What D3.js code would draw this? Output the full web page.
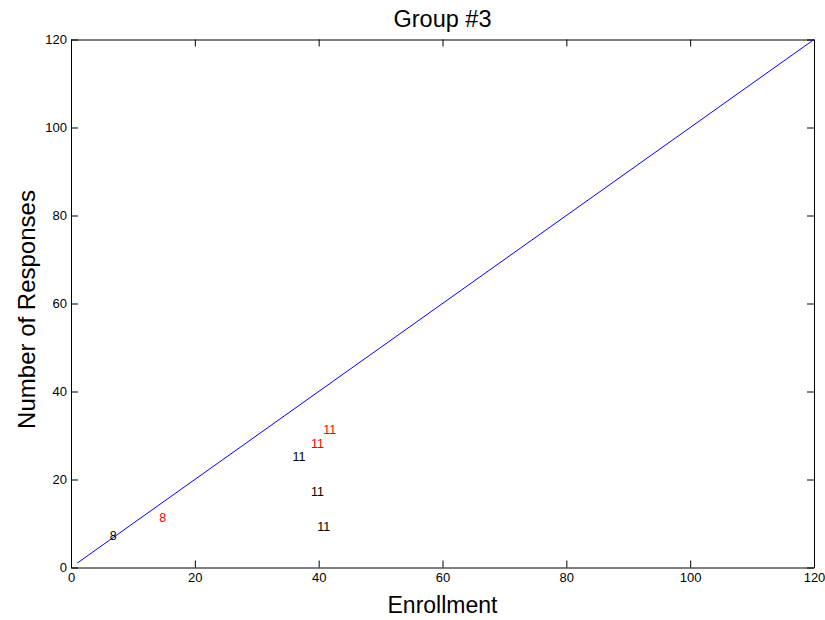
<!DOCTYPE html>
<html>
<head>
<meta charset="utf-8">
<script src="https://cdn.jsdelivr.net/npm/d3@7"></script>
<style>
  body { margin: 0; background: white; }
  text { font-family: "Liberation Sans", Arial, Helvetica, sans-serif; }
</style>
</head>
<body>
<div id="content"></div>
<script>
// Screen dimensions
var w = 825;
var h = 620;

// Plot box
var plotLeft = 71, plotRight = 814, plotTop = 39.5, plotBottom = 567.5;
var tickLen = 7;

// Data
var xTicks = [0, 20, 40, 60, 80, 100, 120];
var yTicks = [0, 20, 40, 60, 80, 100, 120];

// reference line y = x
var lineX = [1, 120];
var lineY = [1, 120];

// black labels
var blackX = [6.5, 36, 39, 40];
var blackY = [7, 25, 17, 9];
var blackLabel = ["8", "11", "11", "11"];

// red labels
var redX = [14.5, 39, 41];
var redY = [11, 28, 31];
var redLabel = ["8", "11", "11"];

var x = d3.scaleLinear().domain([0, 120]).range([plotLeft, plotRight]);
var y = d3.scaleLinear().domain([0, 120]).range([plotBottom, plotTop]);

var svg = d3.select("#content")
    .append("svg")
    .attr("width", w)
    .attr("height", h);

svg.append("rect")
   .attr("width", w)
   .attr("height", h)
   .attr("fill", "white");

// Axes (ticks inward, mirrored on top/right)
var xAxisB = d3.axisBottom(x).tickValues(xTicks).tickSizeInner(-tickLen).tickSizeOuter(0).tickPadding(5);
var xAxisT = d3.axisTop(x).tickValues(xTicks).tickSizeInner(-tickLen).tickSizeOuter(0).tickFormat("");
var yAxisL = d3.axisLeft(y).tickValues(yTicks).tickSizeInner(-tickLen).tickSizeOuter(0).tickPadding(4);
var yAxisR = d3.axisRight(y).tickValues(yTicks).tickSizeInner(-tickLen).tickSizeOuter(0).tickFormat("");

function styleAxis(g) {
  g.selectAll("path").attr("stroke", "black").attr("stroke-width", 1);
  g.selectAll("line").attr("stroke", "black").attr("stroke-width", 1);
  g.selectAll("text").attr("fill", "black").style("font-size", "13px")
   .style("font-family", '"Liberation Sans", Arial, sans-serif');
}

svg.append("g").attr("transform", "translate(0," + plotBottom + ")").call(xAxisB).call(styleAxis);
svg.append("g").attr("transform", "translate(0," + plotTop + ")").call(xAxisT).call(styleAxis);
svg.append("g").attr("transform", "translate(" + plotLeft + ",0)").call(yAxisL).call(styleAxis);
svg.append("g").attr("transform", "translate(" + plotRight + ",0)").call(yAxisR).call(styleAxis);

// Diagonal line
var line = d3.line()
    .x(function(d) { return x(d[0]); })
    .y(function(d) { return y(d[1]); });

svg.append("path")
   .datum(d3.zip(lineX, lineY))
   .attr("d", line)
   .attr("fill", "none")
   .attr("stroke", "blue")
   .attr("stroke-width", 1);

// Text markers
function drawLabels(xs, ys, labels, color) {
  svg.append("g")
     .selectAll("text")
     .data(d3.zip(xs, ys, labels))
     .enter()
     .append("text")
     .attr("x", function(d) { return x(d[0]) - 1.5; })
     .attr("y", function(d) { return y(d[1]); })
     .attr("dominant-baseline", "middle")
     .attr("fill", color)
     .style("font-size", "12.5px")
     .text(function(d) { return d[2]; });
}
drawLabels(blackX, blackY, blackLabel, "black");
drawLabels(redX, redY, redLabel, "red");

// Title and axis labels
svg.append("text")
   .attr("x", (plotLeft + plotRight) / 2)
   .attr("y", 27)
   .attr("text-anchor", "middle")
   .style("font-size", "23.5px")
   .text("Group #3");

svg.append("text")
   .attr("x", (plotLeft + plotRight) / 2)
   .attr("y", 613)
   .attr("text-anchor", "middle")
   .style("font-size", "23px")
   .text("Enrollment");

svg.append("text")
   .attr("transform", "translate(35," + ((plotTop + plotBottom) / 2 + 6) + ") rotate(-90)")
   .attr("text-anchor", "middle")
   .style("font-size", "24px")
   .text("Number of Responses");
</script>
</body>
</html>
